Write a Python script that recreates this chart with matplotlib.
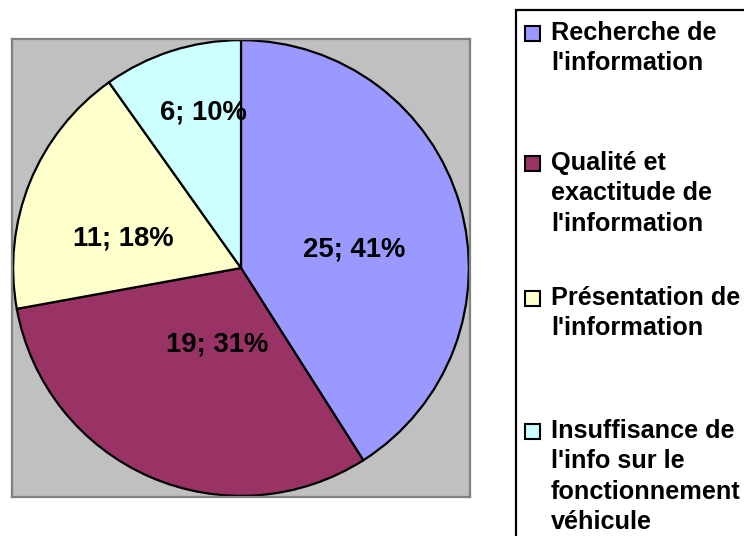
import numpy as np
import matplotlib
matplotlib.use("Agg")
import matplotlib.pyplot as plt
from matplotlib.patches import Rectangle

categories = ["Recherche de\nl'information",
              "Qualité et\nexactitude de\nl'information",
              "Présentation de\nl'information",
              "Insuffisance de\nl'info sur le\nfonctionnement\nvéhicule"]
counts = [25, 19, 11, 6]
percents = [41, 31, 18, 10]
colors = ["#9999FF", "#993366", "#FFFFCC", "#CCFFFF"]
# label placement (fraction of radius, angle offset in degrees)
label_dist = [0.50, 0.35, 0.53, 0.70]
label_dang = [-7.0, 6.0, 8.0, -4.0]

plt.rcParams['font.family'] = ['Liberation Sans', 'DejaVu Sans']

W, H = 744, 536
fig = plt.figure(figsize=(W / 100, H / 100), dpi=100)
fig.patch.set_facecolor("white")

# plot area
ax = fig.add_axes([12 / W, (H - 497) / H, 458 / W, 458 / H])
ax.set_facecolor("#C0C0C0")
for s in ax.spines.values():
    s.set_color("#808080")
    s.set_linewidth(1.6)

wedges, _ = ax.pie(counts, colors=colors, startangle=90, counterclock=False,
                   radius=0.995,
                   wedgeprops=dict(edgecolor="black", linewidth=1.6))
ax.set_xlim(-1, 1)
ax.set_ylim(-1, 1)
ax.set_xticks([])
ax.set_yticks([])
ax.set_frame_on(True)

for w, c, p, d, da in zip(wedges, counts, percents, label_dist, label_dang):
    mid = np.deg2rad((w.theta1 + w.theta2) / 2 + da)
    ax.text(d * np.cos(mid), d * np.sin(mid), f"{c}; {p}%",
            ha="center", va="center", fontsize=19.8, fontweight="bold",
            color="black")

# legend box
fig.patches.append(Rectangle((516 / W, -0.05), 0.5, (H - 10) / H + 0.05,
                             transform=fig.transFigure, facecolor="white",
                             edgecolor="black", linewidth=1.6, zorder=1))

item_top = [21, 151, 286, 419]
for cat, col, yt in zip(categories, colors, item_top):
    sq = 15
    fig.patches.append(Rectangle((525 / W, (H - yt - 20) / H), sq / W, sq / H,
                                 transform=fig.transFigure, facecolor=col,
                                 edgecolor="black", linewidth=1.5, zorder=2))
    fig.text(551 / W, (H - yt) / H, cat, ha="left", va="top",
             fontsize=18.2, fontweight="bold", linespacing=1.33, zorder=3)

fig.savefig("out.png", dpi=100, facecolor="white")
